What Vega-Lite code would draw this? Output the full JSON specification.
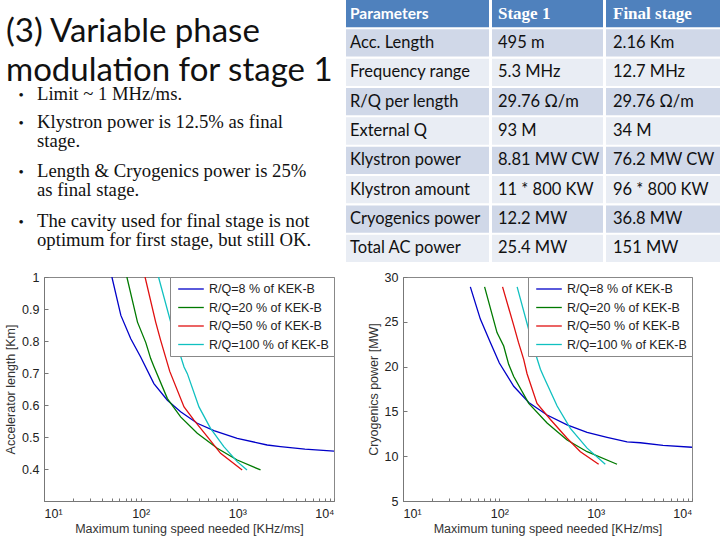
{
  "$schema": "https://vega.github.io/schema/vega-lite/v6.json",
  "padding": {"left": 4, "top": 0, "right": 0, "bottom": 0},
  "background": "white",
  "spacing": 8,
  "config": {
    "font": "Liberation Sans",
    "view": {"stroke": null},
    "axis": {"grid": false}
  },
  "datasets": {
    "table": [
      {"row": 0, "param": "Parameters", "stage1": "Stage 1", "final": "Final stage"},
      {"row": 1, "param": "Acc. Length", "stage1": "495 m", "final": "2.16  Km"},
      {"row": 2, "param": "Frequency range", "stage1": "5.3 MHz", "final": "12.7 MHz"},
      {"row": 3, "param": "R/Q per length", "stage1": "29.76 Ω/m", "final": "29.76 Ω/m"},
      {"row": 4, "param": "External Q", "stage1": "93 M", "final": "34 M"},
      {"row": 5, "param": "Klystron power", "stage1": "8.81 MW CW", "final": "76.2 MW CW"},
      {"row": 6, "param": "Klystron amount", "stage1": "11 * 800 KW", "final": "96 * 800 KW"},
      {"row": 7, "param": "Cryogenics power", "stage1": "12.2 MW", "final": "36.8 MW"},
      {"row": 8, "param": "Total AC power", "stage1": "25.4 MW", "final": "151 MW"}
    ],
    "length": [
      {"rq": "R/Q=8 % of KEK-B", "speed": 50.4, "v": 1.0},
      {"rq": "R/Q=8 % of KEK-B", "speed": 62.4, "v": 0.88},
      {"rq": "R/Q=8 % of KEK-B", "speed": 79, "v": 0.807},
      {"rq": "R/Q=8 % of KEK-B", "speed": 100, "v": 0.75},
      {"rq": "R/Q=8 % of KEK-B", "speed": 137, "v": 0.667},
      {"rq": "R/Q=8 % of KEK-B", "speed": 189, "v": 0.615},
      {"rq": "R/Q=8 % of KEK-B", "speed": 259, "v": 0.579},
      {"rq": "R/Q=8 % of KEK-B", "speed": 385, "v": 0.543},
      {"rq": "R/Q=8 % of KEK-B", "speed": 572, "v": 0.52},
      {"rq": "R/Q=8 % of KEK-B", "speed": 997, "v": 0.496},
      {"rq": "R/Q=8 % of KEK-B", "speed": 2035, "v": 0.475},
      {"rq": "R/Q=8 % of KEK-B", "speed": 2790, "v": 0.47},
      {"rq": "R/Q=8 % of KEK-B", "speed": 5000, "v": 0.462},
      {"rq": "R/Q=8 % of KEK-B", "speed": 10000, "v": 0.456},
      {"rq": "R/Q=20 % of KEK-B", "speed": 72, "v": 1.0},
      {"rq": "R/Q=20 % of KEK-B", "speed": 92.7, "v": 0.859},
      {"rq": "R/Q=20 % of KEK-B", "speed": 113, "v": 0.795},
      {"rq": "R/Q=20 % of KEK-B", "speed": 127, "v": 0.745},
      {"rq": "R/Q=20 % of KEK-B", "speed": 137, "v": 0.72},
      {"rq": "R/Q=20 % of KEK-B", "speed": 189, "v": 0.62},
      {"rq": "R/Q=20 % of KEK-B", "speed": 259, "v": 0.563},
      {"rq": "R/Q=20 % of KEK-B", "speed": 385, "v": 0.512},
      {"rq": "R/Q=20 % of KEK-B", "speed": 620, "v": 0.465},
      {"rq": "R/Q=20 % of KEK-B", "speed": 997, "v": 0.428},
      {"rq": "R/Q=20 % of KEK-B", "speed": 1738, "v": 0.397},
      {"rq": "R/Q=50 % of KEK-B", "speed": 111, "v": 1.0},
      {"rq": "R/Q=50 % of KEK-B", "speed": 143, "v": 0.859},
      {"rq": "R/Q=50 % of KEK-B", "speed": 161, "v": 0.802},
      {"rq": "R/Q=50 % of KEK-B", "speed": 200, "v": 0.705},
      {"rq": "R/Q=50 % of KEK-B", "speed": 281, "v": 0.594},
      {"rq": "R/Q=50 % of KEK-B", "speed": 356, "v": 0.553},
      {"rq": "R/Q=50 % of KEK-B", "speed": 489, "v": 0.501},
      {"rq": "R/Q=50 % of KEK-B", "speed": 671, "v": 0.449},
      {"rq": "R/Q=50 % of KEK-B", "speed": 1122, "v": 0.397},
      {"rq": "R/Q=100 % of KEK-B", "speed": 153, "v": 1.0},
      {"rq": "R/Q=100 % of KEK-B", "speed": 230, "v": 0.802},
      {"rq": "R/Q=100 % of KEK-B", "speed": 281, "v": 0.719},
      {"rq": "R/Q=100 % of KEK-B", "speed": 304, "v": 0.698},
      {"rq": "R/Q=100 % of KEK-B", "speed": 401, "v": 0.594},
      {"rq": "R/Q=100 % of KEK-B", "speed": 528, "v": 0.527},
      {"rq": "R/Q=100 % of KEK-B", "speed": 725, "v": 0.47},
      {"rq": "R/Q=100 % of KEK-B", "speed": 997, "v": 0.423},
      {"rq": "R/Q=100 % of KEK-B", "speed": 1259, "v": 0.397}
    ],
    "cryo": [
      {"rq": "R/Q=8 % of KEK-B", "speed": 50, "v": 28.9},
      {"rq": "R/Q=8 % of KEK-B", "speed": 63.5, "v": 25.3},
      {"rq": "R/Q=8 % of KEK-B", "speed": 80.7, "v": 22.7},
      {"rq": "R/Q=8 % of KEK-B", "speed": 100, "v": 20.4},
      {"rq": "R/Q=8 % of KEK-B", "speed": 141, "v": 17.8},
      {"rq": "R/Q=8 % of KEK-B", "speed": 202, "v": 16.0},
      {"rq": "R/Q=8 % of KEK-B", "speed": 313, "v": 14.6},
      {"rq": "R/Q=8 % of KEK-B", "speed": 505, "v": 13.5},
      {"rq": "R/Q=8 % of KEK-B", "speed": 815, "v": 12.65},
      {"rq": "R/Q=8 % of KEK-B", "speed": 1313, "v": 12.1},
      {"rq": "R/Q=8 % of KEK-B", "speed": 2118, "v": 11.6},
      {"rq": "R/Q=8 % of KEK-B", "speed": 2911, "v": 11.5},
      {"rq": "R/Q=8 % of KEK-B", "speed": 5000, "v": 11.2},
      {"rq": "R/Q=8 % of KEK-B", "speed": 10000, "v": 11.0},
      {"rq": "R/Q=20 % of KEK-B", "speed": 70.3, "v": 28.9},
      {"rq": "R/Q=20 % of KEK-B", "speed": 94.6, "v": 23.8},
      {"rq": "R/Q=20 % of KEK-B", "speed": 111, "v": 22.3},
      {"rq": "R/Q=20 % of KEK-B", "speed": 125, "v": 20.25},
      {"rq": "R/Q=20 % of KEK-B", "speed": 141, "v": 18.9},
      {"rq": "R/Q=20 % of KEK-B", "speed": 202, "v": 15.9},
      {"rq": "R/Q=20 % of KEK-B", "speed": 313, "v": 13.7},
      {"rq": "R/Q=20 % of KEK-B", "speed": 505, "v": 11.8},
      {"rq": "R/Q=20 % of KEK-B", "speed": 815, "v": 10.5},
      {"rq": "R/Q=20 % of KEK-B", "speed": 1667, "v": 9.1},
      {"rq": "R/Q=50 % of KEK-B", "speed": 108, "v": 28.9},
      {"rq": "R/Q=50 % of KEK-B", "speed": 141, "v": 24.6},
      {"rq": "R/Q=50 % of KEK-B", "speed": 158, "v": 22.7},
      {"rq": "R/Q=50 % of KEK-B", "speed": 179, "v": 20.8},
      {"rq": "R/Q=50 % of KEK-B", "speed": 194, "v": 19.2},
      {"rq": "R/Q=50 % of KEK-B", "speed": 246, "v": 15.9},
      {"rq": "R/Q=50 % of KEK-B", "speed": 339, "v": 14.1},
      {"rq": "R/Q=50 % of KEK-B", "speed": 505, "v": 12.0},
      {"rq": "R/Q=50 % of KEK-B", "speed": 694, "v": 10.5},
      {"rq": "R/Q=50 % of KEK-B", "speed": 1074, "v": 9.1},
      {"rq": "R/Q=100 % of KEK-B", "speed": 153, "v": 28.9},
      {"rq": "R/Q=100 % of KEK-B", "speed": 227, "v": 22.1},
      {"rq": "R/Q=100 % of KEK-B", "speed": 267, "v": 19.7},
      {"rq": "R/Q=100 % of KEK-B", "speed": 288, "v": 18.9},
      {"rq": "R/Q=100 % of KEK-B", "speed": 398, "v": 15.6},
      {"rq": "R/Q=100 % of KEK-B", "speed": 546, "v": 13.1},
      {"rq": "R/Q=100 % of KEK-B", "speed": 815, "v": 10.9},
      {"rq": "R/Q=100 % of KEK-B", "speed": 1259, "v": 9.1}
    ]
  },
  "vconcat": [
    {
      "bounds": "flush",
      "spacing": 3,
      "hconcat": [
        {
          "width": 299,
          "height": 262,
          "resolve": {"scale": {"y": "independent"}},
          "layer": [
            {
              "data": {"values": [{"heading": "(3) Variable phase\nmodulation for stage 1"}]},
              "mark": {"type": "text", "font": "Lato", "fontSize": 33, "align": "left", "baseline": "alphabetic", "lineBreak": "\n", "lineHeight": 38.5, "color": "#111"},
              "encoding": {
                "x": {"datum": 5, "type": "quantitative", "scale": {"domain": [0, 342], "range": [-43, 299]}, "axis": null},
                "y": {"datum": 42, "type": "quantitative", "scale": {"domain": [0, 262], "range": [0, 262]}, "axis": null},
                "text": {"field": "heading"}
              }
            },
            {
              "data": {"values": [
                {"n": 1, "bullet": "Limit ~ 1 MHz/ms."},
                {"n": 2, "bullet": "Klystron power is 12.5% as final\nstage."},
                {"n": 3, "bullet": "Length & Cryogenics power is 25%\nas final stage."},
                {"n": 4, "bullet": "The cavity used for final stage is not\noptimum for first stage, but still OK."}
              ]},
              "layer": [
                {
                  "mark": {"type": "text", "font": "Liberation Serif", "fontSize": 18.7, "align": "left", "baseline": "alphabetic", "lineBreak": "\n", "lineHeight": 19, "color": "#111"},
                  "encoding": {
                    "x": {"datum": 36, "type": "quantitative", "scale": {"domain": [0, 342], "range": [-43, 299]}, "axis": null},
                    "y": {"field": "n", "type": "quantitative", "scale": {"domain": [1, 2, 3, 4], "range": [100, 128, 177, 227]}, "axis": null},
                    "text": {"field": "bullet"}
                  }
                },
                {
                  "mark": {"type": "text", "text": "•", "font": "Liberation Serif", "fontSize": 15, "align": "center", "baseline": "alphabetic", "color": "#111"},
                  "encoding": {
                    "x": {"datum": 20, "type": "quantitative", "scale": {"domain": [0, 342], "range": [-43, 299]}, "axis": null},
                    "y": {"field": "n", "type": "quantitative", "scale": {"domain": [1, 2, 3, 4], "range": [100, 128, 177, 227]}, "axis": null}
                  }
                }
              ]
            }
          ]
        },
        {
          "width": 143,
          "height": 262,
          "data": {"name": "table"},
          "encoding": {"y": {"field": "row", "type": "ordinal", "axis": null, "scale": {"paddingInner": 0.07, "paddingOuter": 0}}},
          "layer": [
            {"mark": {"type": "rect"}, "encoding": {"color": {"condition": [{"test": "datum.row == 0", "value": "#4F81BD"}, {"test": "datum.row % 2 == 1", "value": "#D0D8E8"}], "value": "#E9EDF4"}}},
            {"transform": [{"filter": "datum.row == 0"}], "mark": {"type": "text", "align": "left", "baseline": "middle", "font": "Lato", "fontWeight": "bold", "fontSize": 15.5, "color": "white"},
             "encoding": {"x": {"datum": 4, "type": "quantitative", "scale": {"domain": [0, 143], "range": [0, 143]}, "axis": null}, "text": {"field": "param"}}},
            {"transform": [{"filter": "datum.row > 0"}], "mark": {"type": "text", "align": "left", "baseline": "middle", "font": "Lato", "fontSize": 16.5, "color": "#111"},
             "encoding": {"x": {"datum": 4, "type": "quantitative", "scale": {"domain": [0, 143], "range": [0, 143]}, "axis": null}, "text": {"field": "param"}}}
          ]
        },
        {
          "width": 111,
          "height": 262,
          "data": {"name": "table"},
          "encoding": {"y": {"field": "row", "type": "ordinal", "axis": null, "scale": {"paddingInner": 0.07, "paddingOuter": 0}}},
          "layer": [
            {"mark": {"type": "rect"}, "encoding": {"color": {"condition": [{"test": "datum.row == 0", "value": "#4F81BD"}, {"test": "datum.row % 2 == 1", "value": "#D0D8E8"}], "value": "#E9EDF4"}}},
            {"transform": [{"filter": "datum.row == 0"}], "mark": {"type": "text", "align": "left", "baseline": "middle", "font": "Liberation Serif", "fontWeight": "bold", "fontSize": 17, "color": "white"},
             "encoding": {"x": {"datum": 6, "type": "quantitative", "scale": {"domain": [0, 111], "range": [0, 111]}, "axis": null}, "text": {"field": "stage1"}}},
            {"transform": [{"filter": "datum.row > 0"}], "mark": {"type": "text", "align": "left", "baseline": "middle", "font": "Lato", "fontSize": 16.5, "color": "#111"},
             "encoding": {"x": {"datum": 6, "type": "quantitative", "scale": {"domain": [0, 111], "range": [0, 111]}, "axis": null}, "text": {"field": "stage1"}}}
          ]
        },
        {
          "width": 115,
          "height": 262,
          "data": {"name": "table"},
          "encoding": {"y": {"field": "row", "type": "ordinal", "axis": null, "scale": {"paddingInner": 0.07, "paddingOuter": 0}}},
          "layer": [
            {"mark": {"type": "rect"}, "encoding": {"color": {"condition": [{"test": "datum.row == 0", "value": "#4F81BD"}, {"test": "datum.row % 2 == 1", "value": "#D0D8E8"}], "value": "#E9EDF4"}}},
            {"transform": [{"filter": "datum.row == 0"}], "mark": {"type": "text", "align": "left", "baseline": "middle", "font": "Liberation Serif", "fontWeight": "bold", "fontSize": 17, "color": "white"},
             "encoding": {"x": {"datum": 7, "type": "quantitative", "scale": {"domain": [0, 115], "range": [0, 115]}, "axis": null}, "text": {"field": "final"}}},
            {"transform": [{"filter": "datum.row > 0"}], "mark": {"type": "text", "align": "left", "baseline": "middle", "font": "Lato", "fontSize": 16.5, "color": "#111"},
             "encoding": {"x": {"datum": 7, "type": "quantitative", "scale": {"domain": [0, 115], "range": [0, 115]}, "axis": null}, "text": {"field": "final"}}}
          ]
        }
      ]
    },
    {
      "bounds": "flush",
      "spacing": 69,
      "resolve": {"scale": {"color": "independent"}, "legend": {"color": "independent"}},
      "hconcat": [
        {
          "width": 290,
          "height": 224,
          "view": {"stroke": "#888", "strokeWidth": 1},
          "data": {"name": "length"},
          "mark": {"type": "line", "strokeWidth": 1.3, "clip": true},
          "encoding": {
            "x": {"field": "speed", "type": "quantitative",
                  "scale": {"type": "log", "domain": [10, 10000]},
                  "axis": {"values": [10, 20, 30, 40, 50, 60, 70, 80, 90, 100, 200, 300, 400, 500, 600, 700, 800, 900, 1000, 2000, 3000, 4000, 5000, 6000, 7000, 8000, 9000, 10000],
                           "labelExpr": "datum.value == 10 ? '10¹' : datum.value == 100 ? '10²' : datum.value == 1000 ? '10³' : datum.value == 10000 ? '10⁴' : ''",
                           "labelOverlap": false, "labelBound": false,
                           "title": "Maximum tuning speed needed [KHz/ms]", "titleFontWeight": "normal", "titleFontSize": 12.5, "titleColor": "#333", "titlePadding": 3,
                           "labelFontSize": 12.5, "labelColor": "#222", "labelPadding": 9, "tickSize": -3, "tickColor": "#777", "domainColor": "#777"}},
            "y": {"field": "v", "type": "quantitative",
                  "scale": {"domain": [0.3, 1.0], "zero": false},
                  "axis": {"values": [0.4, 0.5, 0.6, 0.7, 0.8, 0.9, 1.0], "format": "~g",
                           "title": "Accelerator length [Km]", "titleFontWeight": "normal", "titleFontSize": 12.5, "titleColor": "#333", "titlePadding": 4,
                           "labelFontSize": 12.5, "labelColor": "#222", "labelPadding": 9, "tickSize": -4, "tickColor": "#777", "domainColor": "#777"}},
            "color": {"field": "rq", "type": "nominal",
                      "scale": {"domain": ["R/Q=8 % of KEK-B", "R/Q=20 % of KEK-B", "R/Q=50 % of KEK-B", "R/Q=100 % of KEK-B"], "range": ["#0000C8", "#007A00", "#E01010", "#10C0C0"]},
                      "legend": {"orient": "top-right", "offset": 0, "title": null, "fillColor": "white", "strokeColor": "#888", "padding": 5, "symbolType": "M-2.05,0H2.05", "symbolSize": 156, "symbolStrokeWidth": 1.3, "symbolOffset": 9, "labelFontSize": 12.5, "labelColor": "#222", "rowPadding": 4.5, "labelOffset": 11}}
          }
        },
        {
          "width": 289,
          "height": 224,
          "view": {"stroke": "#888", "strokeWidth": 1},
          "data": {"name": "cryo"},
          "mark": {"type": "line", "strokeWidth": 1.3, "clip": true},
          "encoding": {
            "x": {"field": "speed", "type": "quantitative",
                  "scale": {"type": "log", "domain": [10, 10000]},
                  "axis": {"values": [10, 20, 30, 40, 50, 60, 70, 80, 90, 100, 200, 300, 400, 500, 600, 700, 800, 900, 1000, 2000, 3000, 4000, 5000, 6000, 7000, 8000, 9000, 10000],
                           "labelExpr": "datum.value == 10 ? '10¹' : datum.value == 100 ? '10²' : datum.value == 1000 ? '10³' : datum.value == 10000 ? '10⁴' : ''",
                           "labelOverlap": false, "labelBound": false,
                           "title": "Maximum tuning speed needed [KHz/ms]", "titleFontWeight": "normal", "titleFontSize": 12.5, "titleColor": "#333", "titlePadding": 3,
                           "labelFontSize": 12.5, "labelColor": "#222", "labelPadding": 9, "tickSize": -3, "tickColor": "#777", "domainColor": "#777"}},
            "y": {"field": "v", "type": "quantitative",
                  "scale": {"domain": [5, 30], "zero": false},
                  "axis": {"values": [5, 10, 15, 20, 25, 30],
                           "title": "Cryogenics power [MW]", "titleFontWeight": "normal", "titleFontSize": 12.5, "titleColor": "#333", "titlePadding": 4,
                           "labelFontSize": 12.5, "labelColor": "#222", "labelPadding": 9, "tickSize": -4, "tickColor": "#777", "domainColor": "#777"}},
            "color": {"field": "rq", "type": "nominal",
                      "scale": {"domain": ["R/Q=8 % of KEK-B", "R/Q=20 % of KEK-B", "R/Q=50 % of KEK-B", "R/Q=100 % of KEK-B"], "range": ["#0000C8", "#007A00", "#E01010", "#10C0C0"]},
                      "legend": {"orient": "top-right", "offset": 0, "title": null, "fillColor": "white", "strokeColor": "#888", "padding": 5, "symbolType": "M-2.05,0H2.05", "symbolSize": 156, "symbolStrokeWidth": 1.3, "symbolOffset": 9, "labelFontSize": 12.5, "labelColor": "#222", "rowPadding": 4.5, "labelOffset": 11}}
          }
        }
      ]
    }
  ]
}
